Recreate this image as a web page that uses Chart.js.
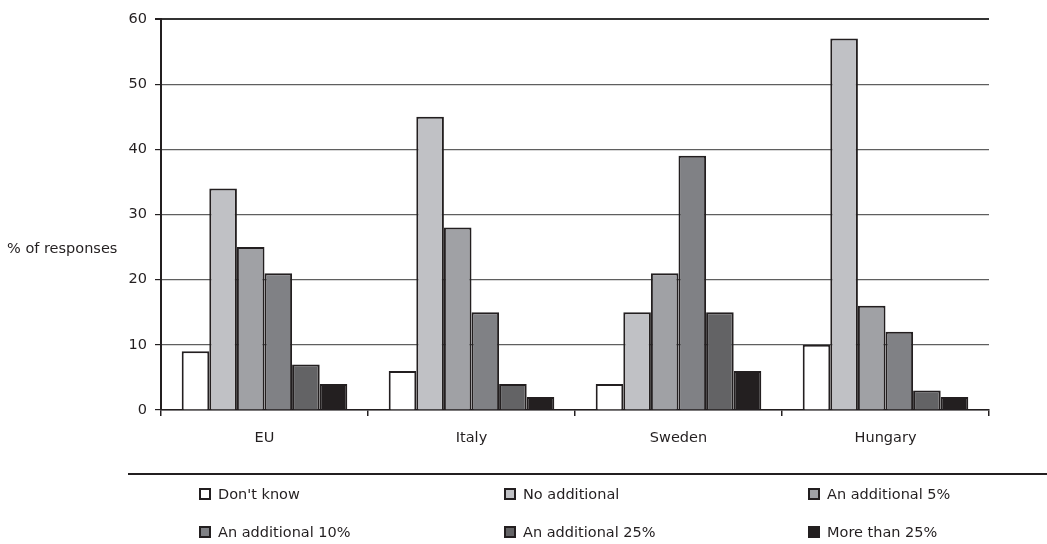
<!DOCTYPE html>
<html>
<head>
<meta charset="utf-8">
<script src="https://cdn.jsdelivr.net/npm/chart.js@4/dist/chart.umd.min.js"></script>
<style>
  html, body { margin: 0; padding: 0; background: #fff; }
  #wrap { position: relative; width: 1047px; height: 544px; }
</style>
</head>
<body>
<div id="wrap"><canvas id="c" width="1047" height="544"></canvas></div>
<script>
// Countries on the category axis
const categories = ['EU', 'Italy', 'Sweden', 'Hungary'];

// Response options (one series each)
const seriesNames = ['Don\'t know', 'No additional', 'An additional 5%', 'An additional 10%', 'An additional 25%', 'More than 25%'];

// % of responses per country, one array per response option
const dontKnow     = [9, 6, 4, 10];
const noAdditional = [34, 45, 15, 57];
const additional5  = [25, 28, 21, 16];
const additional10 = [21, 15, 39, 12];
const additional25 = [7, 4, 15, 3];
const moreThan25   = [4, 2, 6, 2];

// Value axis ticks
const yTicks = [0, 10, 20, 30, 40, 50, 60];

const seriesValues = [dontKnow, noAdditional, additional5, additional10, additional25, moreThan25];
const fills = ['#ffffff', '#c0c1c5', '#a0a1a5', '#808185', '#636365', '#231f20'];
const ink = '#231f20';
const FONT = '"DejaVu Sans", Verdana, sans-serif';

// Boxed legend laid out in two rows of three, plus the unrotated axis caption
const decorations = {
  id: 'decorations',
  afterDraw(chart) {
    const ctx = chart.ctx;
    ctx.save();
    // caption left of the value axis
    ctx.fillStyle = ink;
    ctx.font = '14.5px ' + FONT;
    ctx.textAlign = 'left';
    ctx.textBaseline = 'middle';
    ctx.fillText('% of responses', 7, 249);

    // legend frame
    ctx.strokeStyle = ink;
    ctx.lineWidth = 2;
    ctx.beginPath();
    ctx.moveTo(128, 474);
    ctx.lineTo(1047, 474);
    ctx.stroke();

    const cols = [199, 504, 808];
    const rows = [494, 532];
    chart.data.datasets.forEach((ds, i) => {
      const x = cols[i % 3];
      const y = rows[Math.floor(i / 3)];
      ctx.fillStyle = ds.backgroundColor;
      ctx.fillRect(x, y - 6, 12, 12);
      ctx.lineWidth = 2;
      ctx.strokeStyle = ink;
      ctx.strokeRect(x + 1, y - 5, 10, 10);
      ctx.fillStyle = ink;
      ctx.fillText(ds.label, x + 19, y + 1);
    });
    ctx.restore();
  }
};

new Chart(document.getElementById('c'), {
  type: 'bar',
  data: {
    labels: categories,
    datasets: seriesNames.map((name, i) => ({
      label: name,
      data: seriesValues[i],
      backgroundColor: fills[i],
      borderColor: ink,
      borderWidth: 2,
      categoryPercentage: 0.8,
      barPercentage: 1.0
    }))
  },
  options: {
    responsive: false,
    animation: false,
    devicePixelRatio: 1,
    layout: { padding: { top: 19, right: 58, left: 0, bottom: 0 } },
    plugins: { legend: { display: false }, tooltip: { enabled: false } },
    scales: {
      x: {
        grid: { drawOnChartArea: false, drawTicks: true, tickLength: 6, color: ink, lineWidth: 1.5 },
        border: { color: ink, width: 1.5 },
        ticks: { color: ink, font: { family: FONT, size: 14.5 }, padding: 14 },
        afterFit(scale) { scale.height = 544 - 410; }
      },
      y: {
        min: 0,
        max: 60,
        afterBuildTicks(scale) { scale.ticks = yTicks.map(v => ({ value: v })); },
        grid: {
          color: ctx => ctx.tick && ctx.tick.value === 60 ? '#333333' : '#5f5f5f',
          lineWidth: ctx => ctx.tick && ctx.tick.value === 60 ? 2 : 1.2,
          tickLength: 6,
          tickColor: ink
        },
        border: { color: ink, width: 2 },
        ticks: { color: ink, font: { family: FONT, size: 14.5 }, padding: 8 },
        afterFit(scale) { scale.width = 161; }
      }
    }
  },
  plugins: [decorations]
});
</script>
</body>
</html>
